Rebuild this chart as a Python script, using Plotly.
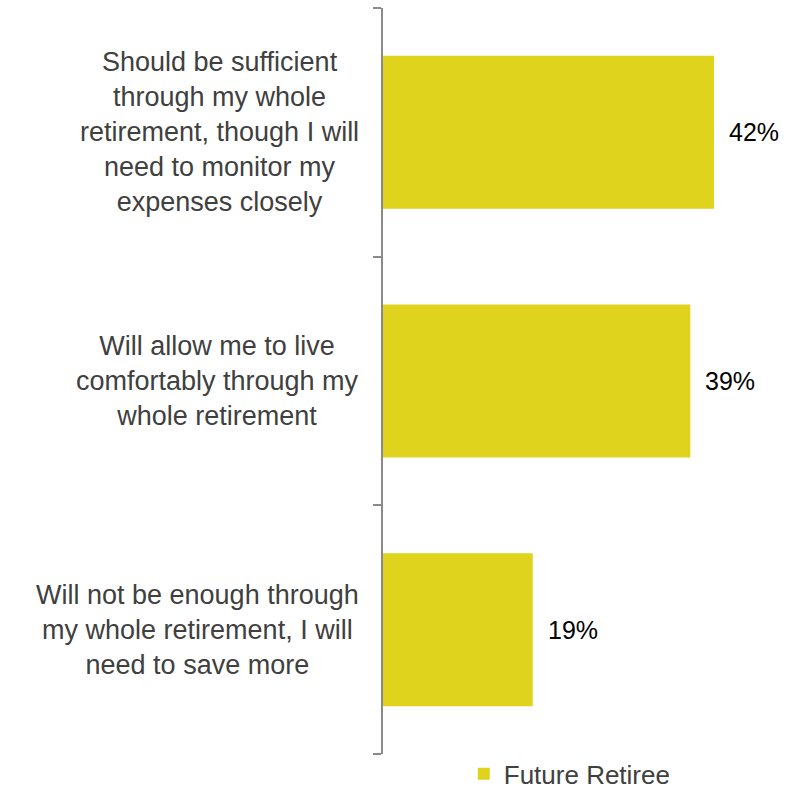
import plotly.graph_objects as go

# Survey responses: how current savings are expected to last in retirement
categories = [
    "Should be sufficient<br>through my whole<br>retirement, though I will<br>need to monitor my<br>expenses closely",
    "Will allow me to live<br>comfortably through my<br>whole retirement",
    "Will not be enough through<br>my whole retirement, I will<br>need to save more",
]
values = [42, 39, 19]
series_name = "Future Retiree"

BAR_COLOR = "#DFD31D"
LABEL_COLOR = "#404040"
AXIS_COLOR = "#8A8A8A"
FONT = "Liberation Sans, Arial, sans-serif"

# Tick marks sit on the boundaries between categories
boundaries = [i - 0.5 for i in range(len(categories) + 1)]

fig = go.Figure(
    go.Bar(
        x=values,
        y=categories,
        orientation="h",
        name=series_name,
        marker=dict(color=BAR_COLOR, line=dict(width=0)),
        showlegend=True,
        hoverinfo="skip",
    )
)

annotations = []
# Category labels, centred line by line to the left of the axis
for cat in categories:
    annotations.append(
        dict(
            x=0, xref="paper", y=cat, yref="y",
            text=cat, showarrow=False, align="center",
            xanchor="right", yanchor="middle", xshift=-22,
            font=dict(family=FONT, size=27, color=LABEL_COLOR),
        )
    )
# Value labels just past the end of each bar
for cat, v in zip(categories, values):
    annotations.append(
        dict(
            x=v, xref="x", y=cat, yref="y",
            text=f"{v}%", showarrow=False,
            xanchor="left", yanchor="middle", xshift=13,
            font=dict(family=FONT, size=25, color="#000000"),
        )
    )

fig.update_layout(
    width=790,
    height=789,
    margin=dict(l=383, r=13, t=8, b=35, autoexpand=False),
    paper_bgcolor="white",
    plot_bgcolor="white",
    bargap=0.385,
    font=dict(family=FONT, color=LABEL_COLOR),
    annotations=annotations,
    xaxis=dict(
        range=[0, 50],
        visible=False,
        showgrid=False,
        zeroline=False,
    ),
    yaxis=dict(
        type="category",
        categoryorder="array",
        categoryarray=categories,
        range=[len(categories) - 0.5, -0.5],
        showticklabels=False,
        tickmode="array",
        tickvals=boundaries,
        ticks="outside",
        ticklen=8,
        tickwidth=2,
        tickcolor=AXIS_COLOR,
        showline=True,
        linecolor=AXIS_COLOR,
        linewidth=2,
        showgrid=False,
        zeroline=False,
    ),
    legend=dict(
        orientation="h",
        x=0.205, xanchor="left",
        y=-0.0265, yanchor="middle",
        font=dict(family=FONT, size=26, color=LABEL_COLOR),
        bgcolor="rgba(0,0,0,0)",
    ),
)

fig.write_html("out.html")
